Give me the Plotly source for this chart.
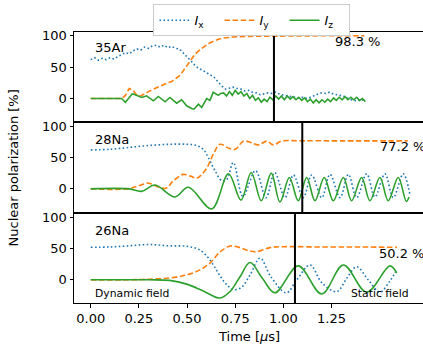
import plotly.graph_objects as go
from plotly.subplots import make_subplots

# ---------------- data ----------------
# Panel 1: 35Ar
ar_ix_t = [0.00, 0.02, 0.04, 0.06, 0.08, 0.10, 0.12, 0.14, 0.16, 0.18, 0.20, 0.22, 0.24, 0.26,
           0.28, 0.30, 0.32, 0.34, 0.36, 0.38, 0.40, 0.42, 0.44, 0.46, 0.48, 0.50, 0.52, 0.54,
           0.56, 0.58, 0.60, 0.62, 0.64, 0.66, 0.68, 0.70, 0.72, 0.74, 0.76, 0.78, 0.80, 0.82,
           0.84, 0.86, 0.88, 0.90, 0.92, 0.94, 0.96, 0.98, 1.00, 1.02, 1.04, 1.06, 1.08, 1.10,
           1.12, 1.14, 1.16, 1.18, 1.20, 1.22, 1.24, 1.26, 1.28, 1.30, 1.32, 1.34, 1.36, 1.38,
           1.40, 1.42]
ar_ix = [62, 65, 61, 64, 62, 65, 63, 67, 70, 73, 71, 76, 79, 77,
         82, 80, 84, 85, 82, 85, 81, 83, 80, 79, 73, 67, 60, 53,
         48, 45, 41, 38, 34, 27, 20, 15, 16, 18, 16, 15, 12, 13,
         10, 9, 6, 8, 9, 8, 10, 7, 5, 4, 3, 2, 1, 2,
         0, 2, 5, 7, 9, 8, 10, 7, 6, 5, 3, -1, -3, -4,
         -2, -3]

ar_iy_t = [0.00, 0.16, 0.18, 0.20, 0.22, 0.24, 0.26, 0.28, 0.30, 0.32, 0.34, 0.36, 0.38, 0.40,
           0.42, 0.44, 0.46, 0.48, 0.50, 0.52, 0.54, 0.56, 0.58, 0.60, 0.62, 0.64, 0.66, 0.68,
           0.70, 0.74, 0.80, 0.90, 1.00, 1.20, 1.42]
ar_iy = [0, 0, 5, 16, 13, 5, 4, 8, 11, 14, 17, 19, 22, 25,
         27, 31, 36, 44, 53, 63, 70, 76, 81, 85, 89, 92, 94, 96,
         97, 98, 99, 99.5, 100, 100, 100]

ar_iz_t = [0.00, 0.16, 0.18, 0.215, 0.221, 0.265, 0.290, 0.325, 0.351, 0.386, 0.411, 0.446,
           0.472, 0.498, 0.524, 0.536, 0.559, 0.576, 0.602, 0.619, 0.636, 0.662, 0.675,
           0.690, 0.705, 0.720, 0.735, 0.750, 0.765, 0.780, 0.795, 0.810, 0.825, 0.840, 0.855,
           0.870, 0.885, 0.900, 0.915, 0.930, 0.945, 0.960, 0.975, 0.990, 1.005, 1.020, 1.035,
           1.050, 1.065, 1.080, 1.095, 1.110, 1.125, 1.140, 1.155, 1.170, 1.185, 1.200, 1.215,
           1.230, 1.245, 1.260, 1.275, 1.290, 1.305, 1.320, 1.335, 1.350, 1.365, 1.380, 1.395,
           1.410, 1.425]
ar_iz = [0, 0, -6, 7, 7, 1.6, 4.3, -3.7, 3.2, -5.3, 1.6, -7.4,
         -2.1, -11.6, -15.9, -17, -9, -14.3, 0, -3, 10, 5, 8,
         9, 4, 11, 5, 13, 7, 11, 4, 8, 0, 5, -3,
         1, -6, -1, -5, 2, -2, 4, -1, 4, -2, 4, -1,
         3, -2, 2, -3, 1, -5, -1, -7, -2, -7, -2, -6,
         -1, -5, 1, -3, 2, -2, 3, -2, 2, -2, 2, -3,
         0, -5]

# Panel 2: 28Na
na28_ix_t = [0.00, 0.10, 0.20, 0.30, 0.41, 0.50, 0.55, 0.584, 0.61, 0.645, 0.68, 0.706, 0.74,
             0.79, 0.855, 0.91, 0.955, 1.008, 1.052, 1.103, 1.147, 1.199, 1.242, 1.294, 1.337,
             1.380, 1.432, 1.475, 1.527, 1.570, 1.622, 1.657]
na28_ix = [62, 63, 66, 69, 71, 71, 69, 63, 50, 29, 13, 15, 42,
           -12, 29, -14, 26, -14, 22, -14, 22, -14, 23, -14, 23,
           -14, 24, -13, 24, -14, 24, -10]

na28_iy_t = [0.00, 0.19, 0.25, 0.30, 0.35, 0.39, 0.43, 0.48, 0.52, 0.55, 0.60, 0.636, 0.671,
             0.715, 0.75, 0.792, 0.83, 0.87, 0.914, 0.948, 0.99, 1.10, 1.30, 1.645]
na28_iy = [0, 0, 5, 9, 3, 1, 13, 23, 20, 17, 32, 55, 71,
           65, 63, 76, 74, 70, 76, 70, 76, 76.5, 76.5, 76.5]

na28_iz_t = [0.00, 0.20, 0.264, 0.334, 0.437, 0.507, 0.628, 0.715, 0.780, 0.833, 0.885, 0.937,
             0.982, 1.031, 1.077, 1.121, 1.164, 1.212, 1.259, 1.311, 1.354, 1.406, 1.449, 1.501,
             1.544, 1.596, 1.638, 1.652]
na28_iz = [0, 0, -4, 6, -13, 2.5, -32, 24, -18, 26, -19, 25,
           -21, 18, -19, 18, -19, 18, -19, 18, -19, 18, -19, 18,
           -19, 18, -20, -13]

# Panel 3: 26Na
na26_ix_t = [0.00, 0.10, 0.20, 0.30, 0.40, 0.50, 0.567, 0.619, 0.662, 0.706, 0.745, 0.783, 0.827,
             0.879, 0.935, 1.015, 1.07, 1.138, 1.20, 1.277, 1.33, 1.38, 1.44, 1.501, 1.55, 1.588]
na26_ix = [52.5, 53, 55, 57, 55, 54, 48, 32, 11, -8, -16, -12, 8,
           35, 5, -21, 0, 24, -5, -19, 3, 21, 0, -20, -3, 16]

na26_iy_t = [0.00, 0.20, 0.30, 0.41, 0.498, 0.567, 0.619, 0.671, 0.723, 0.775, 0.82, 0.861,
             0.93, 1.00, 1.20, 1.40, 1.59]
na26_iy = [0, 0, 1, 3, 8, 16, 27, 45, 54.5, 52, 47, 45.5,
           52, 53.5, 53, 53, 52.5]

na26_iz_t = [0.00, 0.30, 0.41, 0.498, 0.584, 0.671, 0.723, 0.775, 0.827, 0.89, 0.956, 1.077,
             1.199, 1.311, 1.432, 1.553, 1.588]
na26_iz = [0, 0, -1, -7, -18, -29.5, -19, 5, 28, 3, -21, 22.5,
           -23, 24, -20, 22.5, 11]

isotopes = ["35Ar", "28Na", "26Na"]
final_pol = ["98.3 %", "77.2 %", "50.2 %"]
switch_t = [0.951, 1.098, 1.060]
x_ticks = [0.00, 0.25, 0.50, 0.75, 1.00, 1.25]
y_ticks = [0, 50, 100]

# ---------------- figure ----------------
BLUE, ORANGE, GREEN = "#1f77b4", "#ff7f0e", "#2ca02c"
FONT = "DejaVu Sans"

fig = make_subplots(rows=3, cols=1, shared_xaxes=True, vertical_spacing=0)

panels = [
    (ar_ix_t, ar_ix, ar_iy_t, ar_iy, ar_iz_t, ar_iz, "linear"),
    (na28_ix_t, na28_ix, na28_iy_t, na28_iy, na28_iz_t, na28_iz, "spline"),
    (na26_ix_t, na26_ix, na26_iy_t, na26_iy, na26_iz_t, na26_iz, "spline"),
]
names = ["<i>I</i><sub>x</sub>", "<i>I</i><sub>y</sub>", "<i>I</i><sub>z</sub>"]

for i, (tx, ix, ty, iy, tz, iz, shape) in enumerate(panels):
    r = i + 1
    fig.add_trace(go.Scatter(x=tx, y=ix, mode="lines", name=names[0], showlegend=(i == 0),
                             line=dict(color=BLUE, width=1.6, dash="1.6px,2.4px", shape=shape)),
                  row=r, col=1)
    fig.add_trace(go.Scatter(x=ty, y=iy, mode="lines", name=names[1], showlegend=(i == 0),
                             line=dict(color=ORANGE, width=1.6, dash="5.5px,2.6px", shape=shape)),
                  row=r, col=1)
    fig.add_trace(go.Scatter(x=tz, y=iz, mode="lines", name=names[2], showlegend=(i == 0),
                             line=dict(color=GREEN, width=1.6, shape=shape)),
                  row=r, col=1)

XMIN, XMAX = -0.0867, 1.7245
yranges = [[-38, 106], [-38, 106], [-37.5, 108.5]]

for i in range(3):
    r = i + 1
    bottom = (r == 3)
    fig.update_xaxes(row=r, col=1, range=[XMIN, XMAX], showline=True, mirror=True,
                     linecolor="black", linewidth=1, showgrid=False, zeroline=False,
                     ticks="outside" if bottom else "", ticklen=3.5, tickwidth=1,
                     tickcolor="black", tickvals=x_ticks,
                     ticktext=[f"{v:.2f}" for v in x_ticks], showticklabels=bottom,
                     tickfont=dict(family=FONT, size=13, color="black"))
    fig.update_yaxes(row=r, col=1, range=yranges[i], showline=True, mirror=False,
                     linecolor="black", linewidth=1, showgrid=False, zeroline=False,
                     ticks="outside", ticklen=3.5, tickwidth=1, tickcolor="black",
                     tickvals=y_ticks, tickfont=dict(family=FONT, size=13, color="black"))
    yref = "y" if r == 1 else f"y{r}"
    xref = "x" if r == 1 else f"x{r}"
    fig.add_shape(type="line", xref=xref, yref=f"{yref} domain", x0=switch_t[i], x1=switch_t[i],
                  y0=0, y1=1, line=dict(color="black", width=2))

# panel texts
fig.add_annotation(x=0.01, y=81, xref="x", yref="y", text=isotopes[0], showarrow=False,
                   xanchor="left", font=dict(family=FONT, size=13, color="black"))
fig.add_annotation(x=0.01, y=79, xref="x2", yref="y2", text=isotopes[1], showarrow=False,
                   xanchor="left", font=dict(family=FONT, size=13, color="black"))
fig.add_annotation(x=0.01, y=80, xref="x3", yref="y3", text=isotopes[2], showarrow=False,
                   xanchor="left", font=dict(family=FONT, size=13, color="black"))
fig.add_annotation(x=1.256, y=91, xref="x", yref="y", text=final_pol[0], showarrow=False,
                   xanchor="left", font=dict(family=FONT, size=13, color="black"))
fig.add_annotation(x=1.493, y=68, xref="x2", yref="y2", text=final_pol[1], showarrow=False,
                   xanchor="left", font=dict(family=FONT, size=13, color="black"))
fig.add_annotation(x=1.488, y=41.7, xref="x3", yref="y3", text=final_pol[2], showarrow=False,
                   xanchor="left", font=dict(family=FONT, size=13, color="black"))
fig.add_annotation(x=0.01, y=-21.4, xref="x3", yref="y3", text="Dynamic field", showarrow=False,
                   xanchor="left", font=dict(family=FONT, size=10.8, color="black"))
fig.add_annotation(x=1.340, y=-21.4, xref="x3", yref="y3", text="Static field", showarrow=False,
                   xanchor="left", font=dict(family=FONT, size=10.8, color="black"))

# axis titles
fig.add_annotation(x=-0.172, y=0.5, xref="paper", yref="paper", text="Nuclear polarization [%]",
                   textangle=-90, showarrow=False, xanchor="center", yanchor="middle",
                   font=dict(family=FONT, size=13, color="black"))
fig.add_annotation(x=0.82, y=-0.125, xref="x3", yref="paper", text="Time [<i>μ</i>s]",
                   showarrow=False, xanchor="center", yanchor="middle",
                   font=dict(family=FONT, size=13, color="black"))

fig.update_layout(
    width=423, height=348,
    margin=dict(l=74, r=0, t=32, b=45),
    paper_bgcolor="white", plot_bgcolor="white",
    font=dict(family=FONT, size=13, color="black"),
    legend=dict(orientation="h", x=0.51, xanchor="center", y=1.102, yanchor="top",
                bordercolor="#cccccc", borderwidth=1, bgcolor="white",
                font=dict(family=FONT, size=13, color="black"),
                itemwidth=30, entrywidth=20, tracegroupgap=0),
)

fig.write_html("out.html")
